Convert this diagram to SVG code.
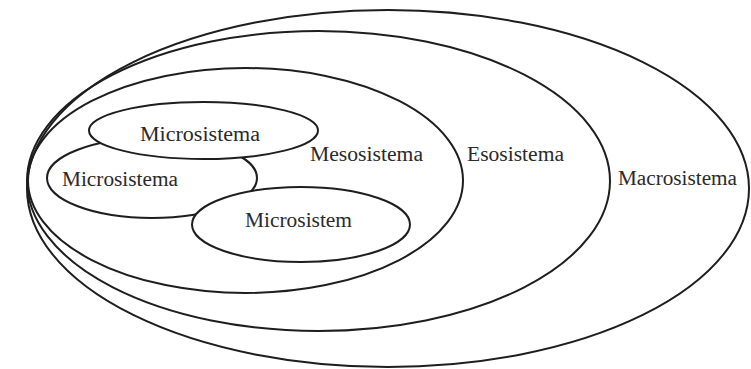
<svg xmlns="http://www.w3.org/2000/svg" width="751" height="369" viewBox="0 0 751 369">
<style>
.sys{fill:none;stroke:#1e1e1e;stroke-width:2}
.micro{fill:#fff;stroke:#1e1e1e;stroke-width:2}
.lbl{font-family:"Liberation Serif","Times New Roman",serif;font-size:20px;fill:#2a2a2a}
</style>
<rect width="751" height="369" fill="#fff"/>
<g id="macrosistema">
<ellipse class="sys" cx="388" cy="188.5" rx="361" ry="178.5"/>
<text class="lbl" x="618" y="185" textLength="119" lengthAdjust="spacingAndGlyphs">Macrosistema</text>
</g>
<g id="esosistema">
<ellipse class="sys" cx="318.5" cy="181" rx="291.5" ry="150"/>
<text class="lbl" x="467" y="161" textLength="97" lengthAdjust="spacingAndGlyphs">Esosistema</text>
</g>
<g id="mesosistema">
<ellipse class="sys" cx="245.5" cy="180.5" rx="217.5" ry="112.5"/>
<text class="lbl" x="310" y="161" textLength="113" lengthAdjust="spacingAndGlyphs">Mesosistema</text>
</g>
<g id="microsistema-2">
<ellipse class="micro" cx="152" cy="178" rx="105" ry="40"/>
<text class="lbl" x="62" y="186" textLength="116" lengthAdjust="spacingAndGlyphs">Microsistema</text>
</g>
<g id="microsistem-3">
<ellipse class="micro" cx="301" cy="224.5" rx="109" ry="37.5"/>
<text class="lbl" x="245" y="227" textLength="107" lengthAdjust="spacingAndGlyphs">Microsistem</text>
</g>
<g id="microsistema-1">
<ellipse class="micro" cx="203.5" cy="130.5" rx="114.5" ry="28.5"/>
<text class="lbl" x="140" y="141" textLength="120" lengthAdjust="spacingAndGlyphs">Microsistema</text>
</g>
<g id="connectors"/>
</svg>
